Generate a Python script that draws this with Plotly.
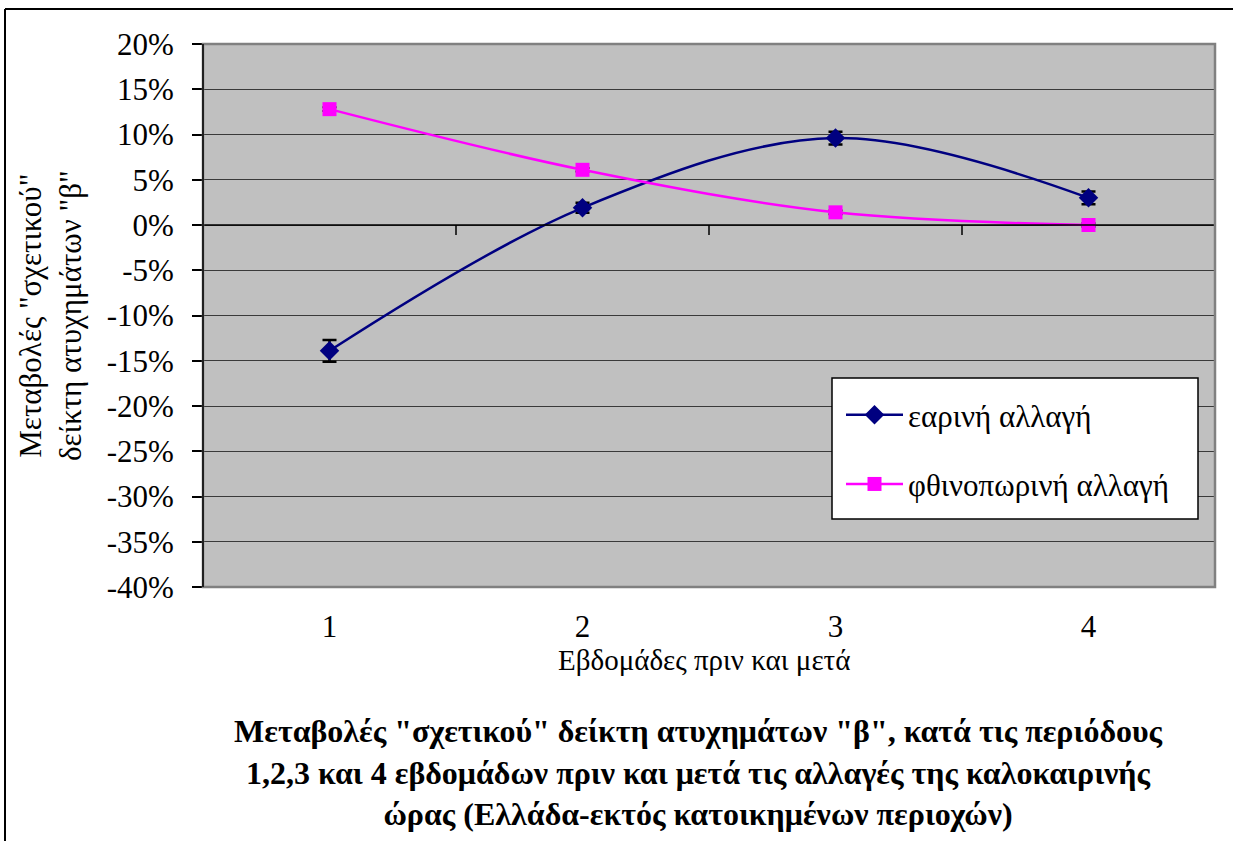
"""Relative accident index 'β' changes around daylight-saving switches (Greece)."""

import plotly.graph_objects as go

# Data
weeks = [1, 2, 3, 4]
spring_change = [-13.9, 1.9, 9.6, 3.0]
spring_err = [1.2, 0.55, 0.7, 0.7]
autumn_change = [12.8, 6.1, 1.4, 0.0]
autumn_err = [0.2, 0.2, 0.2, 0.2]

y_ticks = [-40, -35, -30, -25, -20, -15, -10, -5, 0, 5, 10, 15, 20]
y_tick_labels = ["-40%", "-35%", "-30%", "-25%", "-20%", "-15%", "-10%",
                 "-5%", "0%", "5%", "10%", "15%", "20%"]
x_tick_labels = ["1", "2", "3", "4"]
between_ticks = [1.5, 2.5, 3.5]

FONT = '"Liberation Serif", "Times New Roman", Times, "DejaVu Serif", serif'
W, H = 1233, 841
L, R, T, B = 203, 18, 44, 254
PW, PH = W - L - R, H - T - B


def px_x(p):
    return (p - L) / PW


def px_y(p):
    return (H - B - p) / PH


fig = go.Figure()

fig.add_trace(
    go.Scatter(
        x=weeks,
        y=spring_change,
        mode="lines+markers",
        name="εαρινή αλλαγή",
        legendgroup="spring",
        line={"color": "#000080", "width": 2.5, "shape": "spline", "smoothing": 1},
        marker={"symbol": "diamond", "size": 15, "color": "#000080"},
        error_y={"type": "data", "array": spring_err, "color": "black",
                 "thickness": 2.5, "width": 7},
    )
)
fig.add_trace(
    go.Scatter(
        x=weeks,
        y=autumn_change,
        mode="lines+markers",
        name="φθινοπωρινή αλλαγή",
        legendgroup="autumn",
        line={"color": "#FF00FF", "width": 2.5, "shape": "spline", "smoothing": 1},
        marker={"symbol": "square", "size": 14, "color": "#FF00FF"},
        error_y={"type": "data", "array": autumn_err, "color": "black",
                 "thickness": 2, "width": 7},
    )
)

# category separator ticks hanging from the 0% line
for xv in between_ticks:
    fig.add_shape(type="line", xref="x", yref="y", ysizemode="pixel",
                  yanchor=0, x0=xv, x1=xv, y0=0, y1=-10,
                  line={"color": "black", "width": 1.5})

# zero line (category axis)
fig.add_shape(type="line", xref="paper", yref="y", x0=0, x1=1, y0=0, y1=0,
              line={"color": "black", "width": 1.5})

# legend box (white, drawn over the gridlines)
fig.add_shape(type="rect", xref="paper", yref="paper", layer="above",
              x0=px_x(832), x1=px_x(1198), y0=px_y(519), y1=px_y(378),
              fillcolor="white", line={"color": "black", "width": 1.5})

# plot area frame (gray) and outer chart border
fig.add_shape(type="rect", xref="paper", yref="paper", x0=0, x1=1, y0=0, y1=1,
              line={"color": "#808080", "width": 2.5})
fig.add_shape(type="line", xref="paper", yref="paper", x0=0, x1=0, y0=0, y1=1,
              line={"color": "black", "width": 1.5})
fig.add_shape(type="line", xref="paper", yref="paper",
              x0=px_x(5), x1=px_x(W + 5), y0=px_y(9), y1=px_y(9),
              line={"color": "black", "width": 2})
fig.add_shape(type="line", xref="paper", yref="paper",
              x0=px_x(5), x1=px_x(5), y0=px_y(9), y1=px_y(H + 5),
              line={"color": "black", "width": 2})

# y-axis title
fig.add_annotation(
    text='Μεταβολές "σχετικού"<br>δείκτη ατυχημάτων "β"',
    xref="paper", yref="paper", x=px_x(50), y=px_y(316),
    xanchor="center", yanchor="middle",
    showarrow=False, textangle=-90, align="center",
    font={"family": FONT, "size": 31, "color": "black"},
)
# x-axis title
fig.add_annotation(
    text="Εβδομάδες πριν και μετά",
    xref="paper", yref="paper", x=px_x(704), y=px_y(660),
    xanchor="center", yanchor="middle",
    showarrow=False, font={"family": FONT, "size": 29, "color": "black"},
)
# chart title (below)
fig.add_annotation(
    text=('<b>Μεταβολές "σχετικού" δείκτη ατυχημάτων "β", κατά τις περιόδους<br>'
          "1,2,3 και 4 εβδομάδων πριν και μετά τις αλλαγές της καλοκαιρινής<br>"
          "ώρας (Ελλάδα-εκτός κατοικημένων περιοχών)</b>"),
    xref="paper", yref="paper", x=px_x(698), y=px_y(772),
    xanchor="center", yanchor="middle",
    showarrow=False, align="center",
    font={"family": FONT, "size": 32, "color": "black"},
)

fig.update_layout(
    width=W,
    height=H,
    margin={"l": L, "r": R, "t": T, "b": B},
    paper_bgcolor="white",
    plot_bgcolor="#C0C0C0",
    font={"family": FONT, "color": "black"},
    showlegend=True,
    legend={
        "x": px_x(841), "y": px_y(388), "xanchor": "left", "yanchor": "top",
        "bgcolor": "rgba(0,0,0,0)", "borderwidth": 0,
        "font": {"family": FONT, "size": 31},
        "traceorder": "grouped", "tracegroupgap": 26, "itemwidth": 57,
    },
)
fig.update_xaxes(
    range=[0.5, 4.5],
    tickvals=weeks,
    ticktext=x_tick_labels,
    showgrid=False,
    zeroline=False,
    ticks="",
    tickfont={"family": FONT, "size": 31},
    ticklabelstandoff=18,
)
fig.update_yaxes(
    range=[-40, 20],
    tickvals=y_ticks,
    ticktext=y_tick_labels,
    showgrid=True,
    gridcolor="#3a3a3a",
    gridwidth=1,
    zeroline=False,
    ticks="outside",
    ticklen=10,
    tickcolor="black",
    tickwidth=1.5,
    tickfont={"family": FONT, "size": 31},
    ticklabelstandoff=12,
)

fig.write_html(
    "out.html",
    config={"displayModeBar": False},
    post_script="document.body.style.margin='0';document.body.style.overflow='hidden';",
)
